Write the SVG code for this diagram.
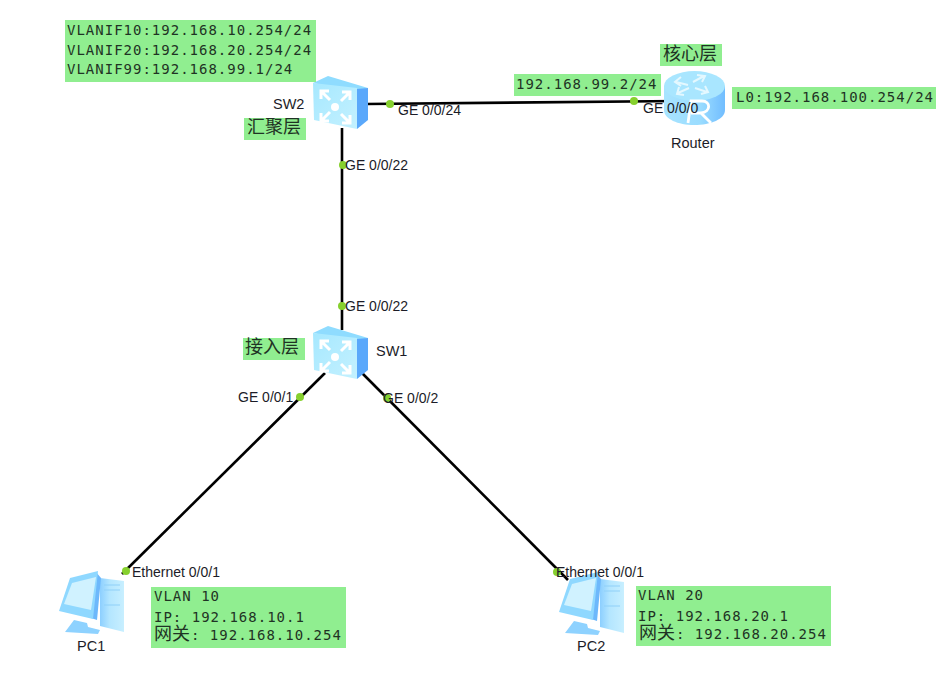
<svg xmlns="http://www.w3.org/2000/svg" width="951" height="689" viewBox="0 0 951 689">
  <style>
    .bg { fill: #90ee90; }
    .lnk { stroke: #000; stroke-width: 2.6; fill: none; stroke-linecap: butt; }
    .dot { fill: #86d02e; }
    .lab { font: 14px "Liberation Sans", Arial, sans-serif; fill: #1c1c28; }
    .name { font: 14.500px "Liberation Sans", Arial, sans-serif; fill: #1c1c28; }
    .mono { font: 14px "DejaVu Sans Mono", monospace; letter-spacing: 1px; fill: #1f3324; }
    .cjk { font: 18px "Noto Sans CJK SC", sans-serif; fill: #1f3324; }
    .arr { fill: none; stroke: #fff; stroke-width: 3; }
    .rt { fill: none; stroke: #e4f8ff; stroke-width: 2; }
  </style>
  <defs>
    <linearGradient id="face" x1="0" y1="0" x2="1" y2="1">
      <stop offset="0" stop-color="#a6e8ff"/>
      <stop offset="1" stop-color="#c4f1ff"/>
    </linearGradient>
    <linearGradient id="drum" x1="0" y1="0" x2="1" y2="0">
      <stop offset="0" stop-color="#a8e4ff"/>
      <stop offset="0.6" stop-color="#9adcff"/>
      <stop offset="1" stop-color="#71bdff"/>
    </linearGradient>
    <linearGradient id="tower" x1="0" y1="0" x2="1" y2="0">
      <stop offset="0" stop-color="#8ccfff"/>
      <stop offset="0.4" stop-color="#b4e6ff"/>
      <stop offset="1" stop-color="#c8efff"/>
    </linearGradient>

    <!-- Layer-3 switch glyph, origin at the top-left of its bounding box -->
    <g id="switch">
      <path d="M0 7 L15 0 L55 12 L44 16 Z" fill="#8fdcff"/>
      <path d="M0 7 L44 12 L44 53 L1 44 Z" fill="url(#face)"/>
      <path d="M44 13 L55 12 L55 44 L44 53 Z" fill="#5aa8fb"/>
      <circle cx="22" cy="31" r="4" fill="#fff"/>
      <path class="arr" d="M8 15 L17 24 M8 23 V15 H16"/>
      <path class="arr" d="M37 16 L28 25 M29 16 H37 V24"/>
      <path class="arr" d="M8 45 L17 36 M8 37 V45 H16"/>
      <path class="arr" d="M37 47 L28 38 M29 47 H37 V39"/>
    </g>

    <!-- Desktop computer glyph -->
    <g id="pc">
      <path d="M100 578 L124 581 L124 632 L100 626 Z" fill="url(#tower)"/>
      <path d="M96 572 L101 578 L97 620 L91 618 Z" fill="#6db8fb"/>
      <path d="M70 578 L98 571 L93 619 L59 611 Z" fill="#8fd8ff"/>
      <path d="M72 583 L96 577 L91 610 L64 604 Z" fill="#d0f2ff"/>
      <path d="M74 620 L87 623 L88 627 L100 630 L98 634 L65 632 Z" fill="#8ed2ff"/>
      <path d="M104 585 H120 M104 590 H120 M104 605 H120" stroke="#8fd0f8" stroke-width="1" fill="none"/>
    </g>
  </defs>

  <rect width="951" height="689" fill="#fff"/>

  <!-- Links and their port markers -->
  <g id="connectors">
    <path class="lnk" d="M366 104 L680 101"/>
    <path class="lnk" d="M342 128 V330"/>
    <path class="lnk" d="M325 373 L122 574"/>
    <path class="lnk" d="M362 373 L568 580"/>
    <circle class="dot" cx="390" cy="104" r="4"/>
    <circle class="dot" cx="634" cy="101" r="4"/>
    <circle class="dot" cx="343" cy="165" r="4"/>
    <circle class="dot" cx="342" cy="306" r="4"/>
    <circle class="dot" cx="300" cy="397" r="4"/>
    <circle class="dot" cx="387" cy="398" r="4"/>
    <circle class="dot" cx="126" cy="571" r="4"/>
    <circle class="dot" cx="557" cy="572" r="4"/>
    <text class="lab" x="398" y="115">GE 0/0/24</text>
    <text class="lab" x="345" y="170">GE 0/0/22</text>
    <text class="lab" x="345" y="311">GE 0/0/22</text>
    <text class="lab" x="238" y="402">GE 0/0/1</text>
    <text class="lab" x="383" y="403">GE 0/0/2</text>
  </g>

  <g id="sw2">
    <use href="#switch" x="313" y="76"/>
    <text class="name" x="273" y="109">SW2</text>
    <rect class="bg" x="244" y="118" width="62" height="22"/>
    <text class="cjk" x="247" y="133">汇聚层</text>
    <rect class="bg" x="65" y="20" width="251" height="62"/>
    <text class="mono" x="67" y="35">VLANIF10:192.168.10.254/24</text>
    <text class="mono" x="67" y="55">VLANIF20:192.168.20.254/24</text>
    <text class="mono" x="67" y="74">VLANIF99:192.168.99.1/24</text>
  </g>

  <g id="router">
    <path d="M664 86 V110 C664 119 678 125 694 125 C711 125 725 119 725 110 V86 Z" fill="url(#drum)"/>
    <ellipse cx="694.500" cy="86" rx="30.500" ry="15" fill="#a9e6ff"/>
    <path class="rt" d="M676 82 L688 85 M681 77 L675 82 L681 86 M704 76 L693 82 M697 75 L705 76 L702 82 M678 93 L689 88 M679 87 L677 94 L684 95 M707 92 L695 88 M705 86 L708 92 L701 94"/>
    <path d="M688 123 L691 101 H702 C711 101 711 112 701 113 L711 123 M691 113 H701" fill="none" stroke="#fff" stroke-width="2.800"/>
    <rect class="bg" x="660" y="44" width="62" height="22"/>
    <text class="cjk" x="663" y="60">核心层</text>
    <rect class="bg" x="514" y="74" width="147" height="22"/>
    <text class="mono" x="516" y="89">192.168.99.2/24</text>
    <rect class="bg" x="732" y="87" width="204" height="22"/>
    <text class="mono" x="736" y="102">L0:192.168.100.254/24</text>
    <text class="lab" x="643" y="113">GE 0/0/0</text>
    <text class="name" x="671" y="148">Router</text>
  </g>

  <g id="sw1">
    <use href="#switch" x="313" y="326"/>
    <text class="name" x="376" y="356">SW1</text>
    <rect class="bg" x="243" y="338" width="62" height="22"/>
    <text class="cjk" x="245" y="353">接入层</text>
  </g>

  <g id="pc1">
    <use href="#pc"/>
    <text class="lab" x="132" y="577">Ethernet 0/0/1</text>
    <text class="name" x="77" y="651">PC1</text>
    <rect class="bg" x="151" y="587" width="195" height="61"/>
    <text class="mono" x="154" y="601">VLAN 10</text>
    <text class="mono" x="154" y="622">IP: 192.168.10.1</text>
    <text class="cjk" x="154" y="640">网关</text>
    <text class="mono" x="191" y="640">: 192.168.10.254</text>
  </g>

  <g id="pc2">
    <use href="#pc" x="500" y="1"/>
    <text class="lab" x="556" y="577">Ethernet 0/0/1</text>
    <text class="name" x="577" y="651">PC2</text>
    <rect class="bg" x="636" y="586" width="195" height="60"/>
    <text class="mono" x="638" y="600">VLAN 20</text>
    <text class="mono" x="638" y="621">IP: 192.168.20.1</text>
    <text class="cjk" x="639" y="639">网关</text>
    <text class="mono" x="676" y="639">: 192.168.20.254</text>
  </g>
</svg>
